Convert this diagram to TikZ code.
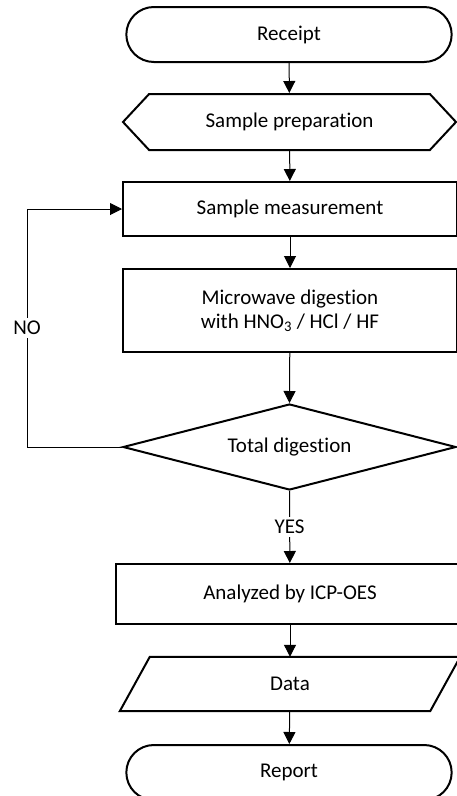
\documentclass[tikz,border=0pt]{standalone}
\usepackage{fontspec}
\setmainfont[Ligatures=NoCommon]{Carlito}
\usetikzlibrary{arrows.meta,shapes.misc,shapes.symbols,shapes.geometric}

\tikzset{
  box/.style={draw,line width=2pt,rectangle,inner sep=2pt},
  term/.style={draw,line width=2pt,rounded rectangle,minimum width=332pt,minimum height=55pt},
  flow/.style={line width=1pt,-{Triangle[length=12pt,width=12pt]}}
}

\begin{document}
\begin{tikzpicture}[x=1pt,y=-1pt,font=\fontsize{21}{24}\selectfont]
            		\useasboundingbox (0,0) rectangle (457,796);
            		\node (receipt) at (289,34.5) [term] {Receipt};
            		\node (prep) at (289.5,122) [draw,line width=2pt,signal,signal to=west and east,signal pointer angle=94,minimum width=333pt,minimum height=56pt] {Sample preparation};
            		\node (meas) at (290,209) [box,minimum width=334pt,minimum height=54pt] {Sample measurement};
            		\node (micro) at (290,310.5) [box,minimum width=334pt,minimum height=83pt,align=center] {Microwave digestion\\with HNO\textsubscript{3} / HCl / HF};
            		\node (total) at (289.5,447) [draw,line width=2pt,diamond,aspect=3.87,inner sep=0pt,minimum width=333pt,minimum height=86pt] {Total digestion};
            		\node (icp) at (290,594) [box,minimum width=348pt,minimum height=60pt] {Analyzed by ICP-OES};
            		\node (data) at (290,684) [rectangle,minimum width=310pt,minimum height=54pt] {Data};
            		\draw[line width=2pt] ([xshift=-15pt]data.south west) -- ([xshift=15pt]data.north west)
            		      -- ([xshift=15pt]data.north east) -- ([xshift=-15pt]data.south east) -- cycle;
            		\node (report) at (289,772.5) [term] {Report};
            		\coordinate (loopa) at (27,447);
            		\coordinate (loopb) at (27,209);

            		\draw[flow] (receipt) -- (prep);
            		\draw[flow] (prep) -- (meas);
            		\draw[flow] (meas) -- (micro);
            		\draw[flow] (micro) -- (total.north);
            		\draw[flow] (total.south) -- node[fill=white,inner sep=3pt] {YES} (icp);
            		\draw[flow] (icp) -- (data);
            		\draw[flow] (data) -- (report);
            		\draw[flow] (total.west) -- (loopa) -- node[fill=white,inner sep=3pt,pos=0.5] {NO} (loopb) -- (meas.west);

        		\end{tikzpicture}
\end{document}
